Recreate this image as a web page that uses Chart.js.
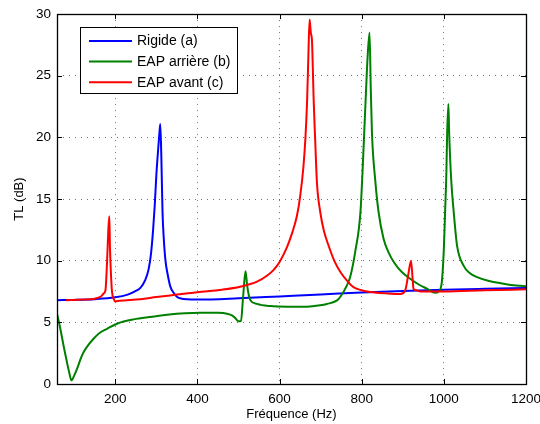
<!DOCTYPE html>
<html>
<head>
<meta charset="utf-8">
<script src="https://cdn.jsdelivr.net/npm/chart.js@4.4.0/dist/chart.umd.min.js"></script>
<style>
  html, body { margin: 0; padding: 0; background: #fff; }
  #wrap { width: 540px; height: 424px; position: relative; }
</style>
</head>
<body>
<div id="wrap"><canvas id="c" width="540" height="424"></canvas></div>
<script>
// ---- data ----
const seriesLabels = ['Rigide (a)', 'EAP arrière (b)', 'EAP avant (c)'];
const seriesColors = ['#0000ff', '#008000', '#ff0000'];

const freqRigide = [58, 100, 150, 200, 230, 250, 261, 273, 281, 287, 292, 296, 300, 304, 307, 309.5, 312, 315, 318, 322, 328, 334, 342, 350, 362, 375, 400, 500, 600, 700, 800, 900, 1000, 1100, 1200];
const tlRigide   = [6.8, 6.82, 6.88, 7.03, 7.25, 7.55, 7.8, 8.45, 9.3, 10.6, 12.5, 14.5, 17.0, 18.9, 20.2, 21.08, 18.5, 13.9, 11.8, 10.05, 8.8, 7.9, 7.4, 7.08, 6.92, 6.87, 6.85, 6.95, 7.1, 7.25, 7.43, 7.55, 7.65, 7.72, 7.78];

const freqArriere = [58, 66, 74, 82, 88, 93, 100, 107, 115, 123, 135, 147, 160, 180, 204, 245, 290, 326, 407, 450, 472, 485, 492, 500, 506, 511, 517, 521, 525, 529, 545, 577, 620, 667, 699, 715, 740, 748, 764, 772, 784, 797, 805, 813, 819, 822, 825, 833, 841, 853, 865, 878, 897, 918, 940, 959, 979, 987, 995, 1000, 1003, 1006, 1008, 1011, 1013, 1018, 1024, 1032, 1048, 1063, 1081, 1110, 1146, 1170, 1194, 1200];
const tlArriere   = [5.7, 4.5, 3.1, 1.8, 0.9, 0.3, 0.7, 1.24, 2.0, 2.6, 3.2, 3.67, 4.1, 4.48, 4.89, 5.24, 5.45, 5.62, 5.78, 5.77, 5.7, 5.55, 5.35, 5.08, 5.1, 7.0, 9.14, 8.0, 7.2, 6.8, 6.5, 6.32, 6.27, 6.27, 6.38, 6.49, 6.78, 7.08, 8.0, 8.7, 10.7, 14.0, 19.5, 25.7, 28.5, 24.0, 20.3, 16.5, 13.95, 11.8, 10.7, 9.9, 9.1, 8.54, 8.05, 7.73, 7.4, 7.5, 8.27, 11.0, 13.95, 17.0, 20.3, 22.7, 20.3, 16.5, 13.95, 11.25, 9.6, 9.0, 8.67, 8.35, 8.13, 8.0, 7.95, 7.93];

const freqAvant = [80, 120, 150, 165, 172, 176, 180, 183, 185.4, 187, 190, 192, 196, 200, 210, 261, 300, 350, 400, 460, 504, 545, 570, 585, 600, 618, 630, 642, 650, 658, 663, 667, 670, 673, 676, 679, 681, 683, 687, 691, 699, 708, 719, 733, 748, 765, 780, 800, 821, 860, 894, 906, 913, 920, 924, 926, 933, 943, 1000, 1100, 1200];
const tlAvant   = [6.8, 6.85, 6.92, 7.1, 7.35, 7.6, 10.0, 12.5, 13.6, 11.0, 8.5, 7.46, 6.9, 6.7, 6.75, 6.87, 7.05, 7.25, 7.45, 7.65, 7.89, 8.3, 8.8, 9.24, 9.9, 11.1, 12.2, 13.6, 15.2, 17.6, 20.0, 23.0, 26.5, 29.57, 28.5, 27.76, 25.5, 23.0, 19.5, 16.3, 13.95, 12.4, 11.25, 10.0, 9.08, 8.35, 7.86, 7.6, 7.46, 7.35, 7.3, 7.6, 8.8, 9.97, 8.5, 7.73, 7.6, 7.5, 7.5, 7.6, 7.68];

const xTicks = [200, 400, 600, 800, 1000, 1200];
const yTicks = [0, 5, 10, 15, 20, 25, 30];
const xTitle = 'Fréquence (Hz)';
const yTitle = 'TL (dB)';

// ---- build ----
function pts(xs, ys) { return xs.map((x, i) => ({ x: x, y: ys[i] })); }
const seriesData = [pts(freqRigide, tlRigide), pts(freqArriere, tlArriere), pts(freqAvant, tlAvant)];

const FONT = 'Liberation Sans, Arial, Helvetica, sans-serif';

const boxTicksLegend = {
  id: 'boxTicksLegend',
  afterDatasetsDraw(chart) {
    const ctx = chart.ctx;
    const a = chart.chartArea;
    const xs = chart.scales.x, ys = chart.scales.y;
    ctx.save();
    ctx.strokeStyle = '#000';
    ctx.lineWidth = 1;
    const tl = 5;
    ctx.beginPath();
    xTicks.forEach(v => {
      const px = Math.round(xs.getPixelForValue(v)) + 0.5;
      ctx.moveTo(px, a.bottom); ctx.lineTo(px, a.bottom - tl);
      ctx.moveTo(px, a.top); ctx.lineTo(px, a.top + tl);
    });
    yTicks.forEach(v => {
      const py = Math.round(ys.getPixelForValue(v)) + 0.5;
      ctx.moveTo(a.left, py); ctx.lineTo(a.left + tl, py);
      ctx.moveTo(a.right, py); ctx.lineTo(a.right - tl, py);
    });
    ctx.stroke();
    ctx.lineWidth = 1.3;
    ctx.strokeRect(Math.round(a.left) + 0.5, Math.round(a.top) + 0.5,
                   Math.round(a.right - a.left), Math.round(a.bottom - a.top));
    // legend
    const lx = 80.5, ly = 27.5, lw = 157, lh = 66;
    ctx.fillStyle = '#fff';
    ctx.fillRect(lx, ly, lw, lh);
    ctx.lineWidth = 1;
    ctx.strokeRect(lx, ly, lw, lh);
    ctx.font = '14px ' + FONT;
    ctx.textBaseline = 'middle';
    ctx.textAlign = 'left';
    chart.data.datasets.forEach((ds, i) => {
      const y = 41 + i * 20.6;
      ctx.strokeStyle = ds.borderColor;
      ctx.lineWidth = 2;
      ctx.beginPath();
      ctx.moveTo(89, y); ctx.lineTo(132, y);
      ctx.stroke();
      ctx.fillStyle = '#000';
      ctx.fillText(ds.label, 137, y + 0.5);
    });
    ctx.restore();
  }
};

new Chart(document.getElementById('c'), {
  type: 'line',
  data: {
    datasets: seriesLabels.map((lab, i) => ({
      label: lab,
      data: seriesData[i],
      borderColor: seriesColors[i],
      backgroundColor: seriesColors[i],
      borderWidth: 2,
      pointRadius: 0,
      cubicInterpolationMode: 'monotone',
      fill: false,
      order: 3 - i
    }))
  },
  options: {
    responsive: false,
    animation: false,
    events: [],
    layout: { padding: { top: 14, right: 0, left: 0, bottom: 0 } },
    plugins: { legend: { display: false }, tooltip: { enabled: false } },
    scales: {
      x: {
        type: 'linear',
        min: 58, max: 1200,
        afterBuildTicks: s => { s.ticks = xTicks.map(v => ({ value: v })); },
        afterFit: s => { s.height = 40; s.paddingRight = 14; },
        grid: { color: 'rgba(0,0,0,0.55)', lineWidth: 1, drawTicks: false },
        border: { display: false, dash: [1, 5] },
        ticks: { color: '#000', padding: 7, font: { family: FONT, size: 13.5 }, maxRotation: 0, autoSkip: false,
                 callback: v => String(v) },
        title: { display: true, text: xTitle, color: '#000', font: { family: FONT, size: 13 }, padding: { top: 0, bottom: 2 } }
      },
      y: {
        type: 'linear',
        min: 0, max: 30,
        afterBuildTicks: s => { s.ticks = yTicks.map(v => ({ value: v })); },
        afterFit: s => { s.width = 57; },
        grid: { color: 'rgba(0,0,0,0.55)', lineWidth: 1, drawTicks: false },
        border: { display: false, dash: [1, 5] },
        ticks: { color: '#000', padding: 6, font: { family: FONT, size: 13.5 }, autoSkip: false,
                 callback: v => String(v) },
        title: { display: true, text: yTitle, color: '#000', font: { family: FONT, size: 13 }, padding: { top: 12, bottom: 0 } }
      }
    }
  },
  plugins: [boxTicksLegend]
});
</script>
</body>
</html>
